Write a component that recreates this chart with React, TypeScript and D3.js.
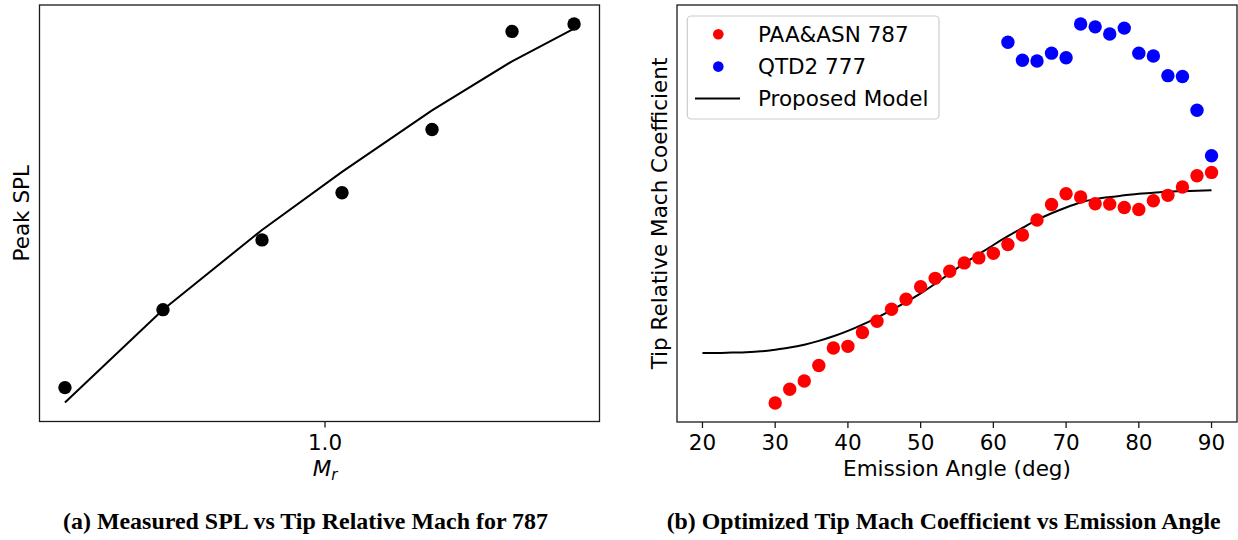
import React from "react";
import * as d3 from "d3";

// ---------- Panel (a) data ----------
const mrValues = [0.74, 0.838, 0.937, 1.017, 1.107, 1.187, 1.249];
const splMeasured = [91.33, 94.46, 97.26, 99.15, 101.69, 105.63, 105.93];
const splModel = [90.73, 94.46, 97.66, 99.99, 102.46, 104.43, 105.74];
const mrTicks = [1.0];

// ---------- Panel (b) data ----------
const paaAngles = [30, 32, 34, 36, 38, 40, 42, 44, 46, 48, 50, 52, 54, 56, 58, 60, 62, 64, 66, 68, 70, 72, 74, 76, 78, 80, 82, 84, 86, 88, 90];
const paaCoef = [0.044, 0.077, 0.097, 0.134, 0.176, 0.18, 0.213, 0.24, 0.269, 0.293, 0.323, 0.343, 0.36, 0.38, 0.392, 0.403, 0.424, 0.447, 0.483, 0.52, 0.546, 0.538, 0.522, 0.521, 0.513, 0.508, 0.529, 0.542, 0.562, 0.589, 0.597];
const qtdAngles = [62, 64, 66, 68, 70, 72, 74, 76, 78, 80, 82, 84, 86, 88, 90];
const qtdCoef = [0.909, 0.866, 0.864, 0.883, 0.872, 0.953, 0.946, 0.929, 0.943, 0.883, 0.876, 0.829, 0.827, 0.746, 0.637];
const modelAngles = [20, 22, 24, 26, 28, 30, 32, 34, 36, 38, 40, 42, 44, 46, 48, 50, 52, 54, 56, 58, 60, 62, 64, 66, 68, 70, 72, 74, 76, 78, 80, 82, 84, 86, 88, 90];
const modelCoef = [0.164, 0.164, 0.165, 0.166, 0.168, 0.172, 0.177, 0.184, 0.193, 0.204, 0.217, 0.232, 0.249, 0.267, 0.286, 0.307, 0.33, 0.355, 0.379, 0.401, 0.423, 0.444, 0.464, 0.483, 0.499, 0.513, 0.525, 0.533, 0.538, 0.542, 0.546, 0.548, 0.551, 0.552, 0.553, 0.554];
const angleTicks = [20, 30, 40, 50, 60, 70, 80, 90];

const legendLabels = ["PAA&ASN 787", "QTD2 777", "Proposed Model"];
const captionA = "(a) Measured SPL vs Tip Relative Mach for 787";
const captionB = "(b) Optimized Tip Mach Coefficient vs Emission Angle";

const FONT = "DejaVu Sans, sans-serif";
const SERIF = "Liberation Serif, Times New Roman, serif";
const FS = 21.5;

function padded(vals: number[]): [number, number] {
  const [lo, hi] = d3.extent(vals) as [number, number];
  const m = (hi - lo) * 0.05;
  return [lo - m, hi + m];
}

export default function App() {
  // Panel A geometry
  const A = { x0: 39.5, x1: 599.5, y0: 5, y1: 421.5 };
  const xA = d3.scaleLinear().domain(padded(mrValues)).range([A.x0, A.x1]);
  const yA = d3.scaleLinear().domain(padded([...splMeasured, ...splModel])).range([A.y1, A.y0]);
  const lineA = d3
    .line<number>()
    .x((_, i) => xA(mrValues[i]))
    .y((d) => yA(d));

  // Panel B geometry
  const B = { x0: 677, x1: 1237, y0: 5, y1: 422 };
  const xB = d3.scaleLinear().domain(padded([...paaAngles, ...qtdAngles, ...modelAngles])).range([B.x0, B.x1]);
  const yB = d3.scaleLinear().domain(padded([...paaCoef, ...qtdCoef, ...modelCoef])).range([B.y1, B.y0]);
  const lineB = d3
    .line<number>()
    .x((_, i) => xB(modelAngles[i]))
    .y((d) => yB(d))
    .curve(d3.curveMonotoneX);

  const frameStroke = "#1a1a1a";
  const tickLen = 6;
  const R = 6.7;

  const legendRows = [34.3, 66.6, 98.6];

  return (
    <svg
      width={1238}
      height={540}
      viewBox="0 0 1238 540"
      style={{ position: "absolute", left: 0, top: 0, background: "#fff" }}
    >
      <rect x={0} y={0} width={1238} height={540} fill="#fff" />

      {/* ---------- Panel A ---------- */}
      <g>
        <path d={lineA(splModel) || ""} fill="none" stroke="#000" strokeWidth={2} />
        {splMeasured.map((v, i) => (
          <circle key={i} cx={xA(mrValues[i])} cy={yA(v)} r={R} fill="#000" />
        ))}
        <rect
          x={A.x0}
          y={A.y0}
          width={A.x1 - A.x0}
          height={A.y1 - A.y0}
          fill="none"
          stroke={frameStroke}
          strokeWidth={1.3}
        />
        {mrTicks.map((t) => (
          <g key={t}>
            <line x1={xA(t)} x2={xA(t)} y1={A.y1} y2={A.y1 + tickLen} stroke={frameStroke} strokeWidth={1.3} />
            <text x={xA(t)} y={450} textAnchor="middle" fontFamily={FONT} fontSize={FS} fill="#000">
              {d3.format(".1f")(t)}
            </text>
          </g>
        ))}
        <text x={xA(1.0)} y={476} textAnchor="middle" fontFamily={FONT} fontSize={FS} fill="#000">
          <tspan fontStyle="italic">M</tspan>
          <tspan fontStyle="italic" fontSize={15} dy={4}>r</tspan>
        </text>
        <text
          transform={`translate(29,${(A.y0 + A.y1) / 2}) rotate(-90)`}
          textAnchor="middle"
          fontFamily={FONT}
          fontSize={FS}
          fill="#000"
        >
          Peak SPL
        </text>
        <text
          x={305.5}
          y={529}
          textAnchor="middle"
          fontFamily={SERIF}
          fontWeight="bold"
          fontSize={23}
          textLength={485}
          lengthAdjust="spacingAndGlyphs"
          fill="#000"
        >
          {captionA}
        </text>
      </g>

      {/* ---------- Panel B ---------- */}
      <g>
        <path d={lineB(modelCoef) || ""} fill="none" stroke="#000" strokeWidth={2} />
        {paaCoef.map((v, i) => (
          <circle key={"p" + i} cx={xB(paaAngles[i])} cy={yB(v)} r={R} fill="#ff0000" />
        ))}
        {qtdCoef.map((v, i) => (
          <circle key={"q" + i} cx={xB(qtdAngles[i])} cy={yB(v)} r={R} fill="#0000ff" />
        ))}
        <rect
          x={B.x0}
          y={B.y0}
          width={B.x1 - B.x0}
          height={B.y1 - B.y0}
          fill="none"
          stroke={frameStroke}
          strokeWidth={1.3}
        />
        {angleTicks.map((t) => (
          <g key={t}>
            <line x1={xB(t)} x2={xB(t)} y1={B.y1} y2={B.y1 + tickLen} stroke={frameStroke} strokeWidth={1.3} />
            <text x={xB(t)} y={450} textAnchor="middle" fontFamily={FONT} fontSize={FS} fill="#000">
              {t}
            </text>
          </g>
        ))}
        <text x={(B.x0 + B.x1) / 2} y={476} textAnchor="middle" fontFamily={FONT} fontSize={FS} fill="#000">
          Emission Angle (deg)
        </text>
        <text
          transform={`translate(667,${(B.y0 + B.y1) / 2}) rotate(-90)`}
          textAnchor="middle"
          fontFamily={FONT}
          fontSize={FS}
          fill="#000"
        >
          Tip Relative Mach Coefficient
        </text>

        {/* Legend */}
        <rect x={687.3} y={16} width={251.7} height={103} rx={4} ry={4} fill="#fff" fillOpacity={0.8} stroke="#cccccc" strokeWidth={1.2} />
        <circle cx={718.3} cy={legendRows[0]} r={5.3} fill="#ff0000" />
        <circle cx={718.3} cy={legendRows[1]} r={5.3} fill="#0000ff" />
        <line x1={695} x2={740} y1={legendRows[2]} y2={legendRows[2]} stroke="#000" strokeWidth={2} />
        {legendLabels.map((l, i) => (
          <text key={l} x={758} y={legendRows[i] + 7.8} fontFamily={FONT} fontSize={FS} fill="#000">
            {l}
          </text>
        ))}

        <text
          x={943.7}
          y={529}
          textAnchor="middle"
          fontFamily={SERIF}
          fontWeight="bold"
          fontSize={23}
          textLength={554}
          lengthAdjust="spacingAndGlyphs"
          fill="#000"
        >
          {captionB}
        </text>
      </g>
    </svg>
  );
}
